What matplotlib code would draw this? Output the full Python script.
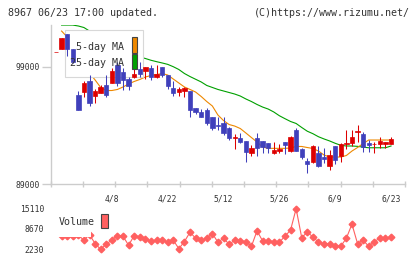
import matplotlib
matplotlib.use("Agg")
import matplotlib.pyplot as plt
import numpy as np
from matplotlib.patches import Rectangle

# daily candles, oldest first (index 0 has no MA / volume shown)
opens = [100230, 100510, 101830, 100480, 96590, 96870, 97780, 96530, 96780, 97440,
         97640, 99140, 98570, 97930, 98100, 98800, 98660, 98860, 98150, 98970,
         98290, 97180, 96870, 96950, 96930, 95440, 95160, 95310, 94710, 94070,
         94170, 93750, 92940, 92900, 92670, 91670, 92900, 92670, 92520, 91670,
         91810, 92610, 91840, 93600, 91960, 90960, 90900, 91670, 91330, 90560,
         92240, 91410, 92380, 92520, 93460, 93260, 92520, 92370, 92410, 92380,
         92410]
closes = [100230, 101470, 100470, 99440, 95310, 97640, 95930, 96930, 97300, 96590,
          98660, 97640, 97870, 97380, 98350, 98350, 98950, 98150, 98380, 98290,
          97380, 96780, 97100, 97210, 95310, 95100, 94740, 94230, 93770, 93940,
          93320, 92900, 92980, 92550, 91750, 92040, 92040, 92180, 92040, 91900,
          92010, 92320, 93030, 91840, 91330, 90680, 92240, 90530, 91130, 91470,
          91050, 92380, 92470, 93030, 93560, 92130, 92320, 92450, 92690, 92550,
          92860]
highs = [100230, 101470, 101830, 100480, 96970, 97740, 98290, 97070, 97440, 98290,
         98860, 99430, 98890, 98150, 99290, 99430, 99000, 99140, 99140, 98970,
         98290, 97740, 97270, 97270, 96930, 95520, 95370, 95450, 94750, 94670,
         94740, 93880, 93260, 93370, 92670, 92320, 93320, 92670, 92520, 92550,
         92410, 92610, 93120, 93750, 92070, 91190, 92320, 92240, 92040, 91900,
         92240, 92470, 93600, 93600, 94030, 93460, 92710, 92610, 93030, 92580,
         93030]
lows = [100230, 100510, 99890, 99320, 95310, 96390, 95680, 95930, 96780, 96440,
        97640, 97350, 97010, 97010, 98010, 98100, 97950, 97870, 98040, 98120,
        97140, 96540, 96540, 96440, 94740, 95010, 94690, 94030, 93600, 93600,
        93180, 92750, 91980, 92500, 90900, 91410, 91410, 91670, 91620, 91560,
        91620, 91560, 91770, 91810, 91110, 89910, 90760, 90470, 90820, 90190,
        90710, 90900, 91980, 92240, 92610, 91690, 91730, 91620, 92040, 92070,
        92410]

ma5 = [np.nan, 102040, 101530, 100850, 100000, 99140, 98460, 97870, 97230, 96970,
       96970, 97060, 97270, 97530, 97740, 97910, 98120, 98250, 98330, 98420,
       98290, 97950, 97610, 97270, 97060, 96840, 96460, 96030, 95650, 94880,
       94410, 94070, 93940, 93730, 93350, 92960, 92580, 92150, 92040, 92040,
       92040, 92040, 92070, 92200, 92200, 92110, 92030, 91810, 91470, 91300,
       91300, 91300, 91430, 91810, 92110, 92450, 92750, 92750, 92750, 92750,
       92750]
ma25 = [np.nan, 102550, 102550, 102550, 102470, 102340, 102040, 101700, 101360, 101110,
        100850, 100590, 100420, 100170, 100000, 99830, 99700, 99550, 99430, 99320,
        99200, 99000, 98760, 98420, 98160, 97930, 97700, 97400, 97230, 97060,
        96930, 96800, 96670, 96500, 96250, 96030, 95780, 95560, 95390, 95140,
        94820, 94570, 94330, 94160, 93820, 93500, 93290, 93030, 92840, 92670,
        92470, 92300, 92240, 92240, 92210, 92140, 92090, 92090, 92090, 92090,
        92240]

volume = [np.nan, 6500, 6500, 6500, 6700, 5100, 6900, 4040, 2230, 3830,
          5200, 6590, 6380, 3510, 6590, 6170, 5530, 4890, 5100, 5100,
          4460, 5100, 2440, 4680, 7660, 5740, 5100, 5740, 7230, 4460,
          5740, 3830, 5100, 4890, 4680, 3190, 8080, 4890, 4890, 4680,
          4460, 6380, 8300, 15110, 5950, 7660, 6170, 4460, 4040, 4040,
          3190, 3190, 5740, 10210, 4040, 5100, 3190, 4680, 5740, 5740,
          6170]

date_labels = ["4/8", "4/22", "5/12", "5/26", "6/9", "6/23"]
date_index = [10, 20, 30, 40, 50, 60]

RED = "#dd0000"
BLUE = "#4040bb"
ORANGE = "#ee8800"
GREEN = "#00a000"
VOLC = "#ff6060"
GRID = "#cccccc"
TXT = "#333333"
MONO = "DejaVu Sans Mono"

W, H = 420, 259
fig = plt.figure(figsize=(W / 100, H / 100), dpi=100)

# pixel boxes of the two panels
px_left, px_right = 50.7, 405
ax = fig.add_axes([px_left / W, (H - 184) / H, (px_right - px_left) / W, (184 - 25) / H])
axv = fig.add_axes([px_left / W, (H - 249.3) / H, (px_right - px_left) / W, (249.3 - 208.7) / H])

x = np.arange(len(closes))
o = np.array(opens, dtype=float)
c = np.array(closes, dtype=float)
colors = np.where(c >= o, RED, BLUE)

ax.plot(x, ma25, color=GREEN, lw=0.8, zorder=2)
ax.plot(x, ma5, color=ORANGE, lw=0.8, zorder=2)
ax.vlines(x, lows, highs, colors=colors, lw=0.75, zorder=3)
ax.bar(x, c - o, bottom=o, width=0.78, color=colors, edgecolor=colors, lw=0.5, zorder=3)

xmin, xmax = -0.95, 62.5
ax.set_xlim(xmin, xmax)
ax.set_ylim(89000, 102555)

for s in ["top", "right"]:
    ax.spines[s].set_visible(False)
for s in ["left", "bottom"]:
    ax.spines[s].set_color(GRID)
    ax.spines[s].set_linewidth(1.0)

ax.set_xticks(np.linspace(xmin, xmax, 12))
ax.set_xticklabels([])
ax.tick_params(axis="x", which="major", direction="inout", length=4.8, width=1.0, color=GRID)
ax.set_xticks(date_index, minor=True)
ax.set_xticklabels(date_labels, minor=True, fontsize=5.8, family=MONO, color=TXT)
ax.tick_params(axis="x", which="minor", length=0, pad=7.5)

ax.set_yticks([89000, 99000])
ax.set_yticklabels(["89000", "99000"], fontsize=5.8, family=MONO, color=TXT)
ax.tick_params(axis="y", direction="out", length=6.5, width=1.0, color=GRID, pad=1)

# price legend (white box sits under the candles, as in the source chart)
ax.add_patch(Rectangle((0.0404, 0.6711), 0.221, 0.2975, transform=ax.transAxes,
                       facecolor="white", edgecolor="#d8d8d8", lw=0.8, zorder=2.5))
ax.text(0.2069, 0.8635, "5-day MA", transform=ax.transAxes, ha="right", va="center",
        fontsize=7.2, family=MONO, color=TXT, zorder=4)
ax.text(0.2069, 0.7591, "25-day MA", transform=ax.transAxes, ha="right", va="center",
        fontsize=7.2, family=MONO, color=TXT, zorder=4)
ax.add_patch(Rectangle((0.2286, 0.8258), 0.0158, 0.0969, transform=ax.transAxes,
                       facecolor=ORANGE, edgecolor="#444444", lw=0.8, zorder=4))
ax.add_patch(Rectangle((0.2286, 0.7214), 0.0158, 0.0962, transform=ax.transAxes,
                       facecolor=GREEN, edgecolor="#444444", lw=0.8, zorder=4))

# volume panel
axv.plot(x, volume, color=VOLC, lw=0.8, marker="D", ms=3.4, mec=VOLC, mfc=VOLC,
         clip_on=False, zorder=2)
axv.set_xlim(xmin, xmax)
vmin, vmax = np.nanmin(volume), np.nanmax(volume)
axv.set_ylim(vmin, vmax)
axv.set_yticks([vmin, (vmin + vmax) / 2, vmax])
axv.set_yticklabels(["%d" % v for v in [vmin, (vmin + vmax) / 2, vmax]],
                    fontsize=5.8, family=MONO, color=TXT)
axv.tick_params(axis="y", length=0, pad=4.6)
axv.set_xticks([])
for s in axv.spines.values():
    s.set_visible(False)
axv.patch.set_alpha(0)

axv.add_patch(Rectangle((0.001, 0.315), 0.113, 0.70, transform=axv.transAxes,
                        facecolor="white", edgecolor="none", clip_on=False, zorder=2.5))
axv.text(0.0215, 0.665, "Volume", transform=axv.transAxes, ha="left", va="center",
         fontsize=7.2, family=MONO, color=TXT, zorder=4)
axv.add_patch(Rectangle((0.142, 0.5246), 0.019, 0.352, transform=axv.transAxes,
                        facecolor=VOLC, edgecolor="#444444", lw=0.8, clip_on=False, zorder=4))

fig.text(8 / W, 1 - 12.7 / H, "8967 06/23 17:00 updated.", ha="left", va="center",
         fontsize=7.2, family=MONO, color=TXT)
fig.text(410 / W, 1 - 12.7 / H, "(C)https://www.rizumu.net/", ha="right", va="center",
         fontsize=7.2, family=MONO, color=TXT)

fig.savefig("out.png", dpi=100)
